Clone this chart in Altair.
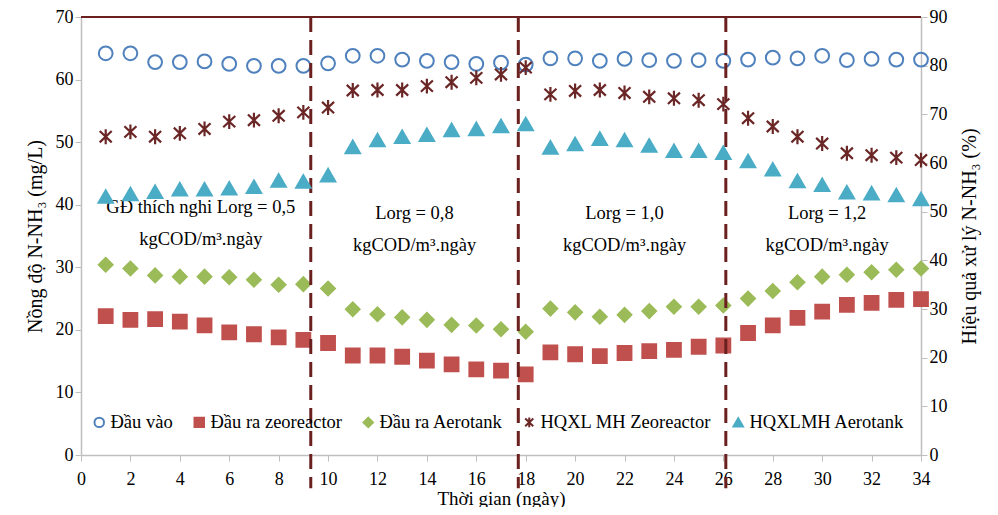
import altair as alt
import pandas as pd

days = list(range(1, 35))

dau_vao = [64.2, 64.2, 62.8, 62.8, 62.9, 62.5, 62.2, 62.2, 62.2, 62.6,
           63.8, 63.8, 63.2, 63.0, 62.8, 62.5, 62.7, 62.4, 63.4, 63.4,
           63.0, 63.3, 63.1, 63.0, 63.1, 63.0, 63.2, 63.5, 63.4, 63.8,
           63.1, 63.3, 63.2, 63.2]
ra_zeo = [22.2, 21.6, 21.7, 21.3, 20.7, 19.6, 19.3, 18.8, 18.4, 17.9,
          15.9, 15.9, 15.7, 15.1, 14.5, 13.7, 13.5, 12.9, 16.4, 16.1,
          15.8, 16.3, 16.6, 16.8, 17.3, 17.5, 19.5, 20.7, 21.9, 22.9,
          24.0, 24.3, 24.8, 24.9]
ra_aero = [30.4, 29.8, 28.7, 28.5, 28.5, 28.4, 28.0, 27.2, 27.3, 26.6,
           23.3, 22.5, 22.0, 21.6, 20.8, 20.7, 20.1, 19.7, 23.4, 22.8,
           22.1, 22.4, 23.0, 23.7, 23.7, 23.9, 25.0, 26.2, 27.6, 28.5,
           28.8, 29.2, 29.6, 29.8]
hq_zeo = [65.4, 66.4, 65.4, 66.1, 67.0, 68.5, 68.8, 69.7, 70.4, 71.4,
          74.9, 75.0, 75.0, 75.8, 76.6, 77.5, 78.2, 79.6, 74.1, 74.8,
          75.0, 74.4, 73.6, 73.3, 72.9, 72.1, 69.2, 67.5, 65.4, 64.0,
          62.0, 61.6, 61.1, 60.6]
hq_aero = [53.1, 53.6, 54.1, 54.6, 54.6, 54.8, 55.1, 56.4, 56.2, 57.5,
           63.3, 64.7, 65.4, 65.8, 66.8, 67.0, 67.6, 68.0, 63.2, 63.9,
           65.0, 64.7, 63.6, 62.5, 62.5, 62.1, 60.4, 58.7, 56.3, 55.5,
           54.0, 53.8, 53.4, 52.6]

series_names = ["Đầu vào", "Đầu ra zeoreactor", "Đầu ra Aerotank",
                "HQXL MH Zeoreactor", "HQXLMH Aerotank"]
series_stroke = ["#4F81BD", "#C0504D", "#9BBB59", "#6B2626", "#4BACC6"]
series_fill = ["transparent", "#C0504D", "#9BBB59", "transparent", "#4BACC6"]
ASTERISK = "M-0.85,-0.8L0.85,0.8M-0.85,0.8L0.85,-0.8M0,-1.05L0,1.05"
series_shape = ["circle", "square", "diamond", ASTERISK, "triangle-up"]

phase_bounds = [9.3, 17.7, 26.1]
phase_label_x = [4.85, 13.5, 22.0, 30.2]
phase_label_y = [39.6, 38.7, 38.7, 38.7]
phase_labels = ["GĐ thích nghi Lorg = 0,5\nkgCOD/m³.ngày",
                "Lorg = 0,8\nkgCOD/m³.ngày",
                "Lorg = 1,0\nkgCOD/m³.ngày",
                "Lorg = 1,2\nkgCOD/m³.ngày"]

FONT = "Liberation Serif"
MAROON = "#6B2020"

left_rows = []
for name, vals in zip(series_names[:3], [dau_vao, ra_zeo, ra_aero]):
    for d, v in zip(days, vals):
        left_rows.append({"day": d, "value": v, "series": name})
right_rows = []
for name, vals in zip(series_names[3:], [hq_zeo, hq_aero]):
    for d, v in zip(days, vals):
        right_rows.append({"day": d, "value": v, "series": name})
left_df = pd.DataFrame(left_rows)
right_df = pd.DataFrame(right_rows)
bounds_df = pd.DataFrame({"x": phase_bounds})
labels_df = pd.DataFrame({"x": phase_label_x, "y": phase_label_y, "label": phase_labels})
top_df = pd.DataFrame({"y": [70]})

x_enc = alt.X("day:Q", title="Thời gian (ngày)",
              scale=alt.Scale(domain=[0, 34], nice=False),
              axis=alt.Axis(values=list(range(0, 35, 2)), labelFlush=False,
                            labelPadding=9, titleFontSize=19,
                            titleBaseline="alphabetic", titleY=49))

shape_enc = alt.Shape("series:N", title=None,
                      scale=alt.Scale(domain=series_names, range=series_shape),
                      legend=alt.Legend(orient="none", legendX=9, legendY=396,
                                        direction="horizontal"))
stroke_enc = alt.Stroke("series:N", title=None,
                        scale=alt.Scale(domain=series_names, range=series_stroke))
fill_enc = alt.Fill("series:N", title=None,
                    scale=alt.Scale(domain=series_names, range=series_fill))

y_left = alt.Y("value:Q", title="Nồng độ N-NH₃ (mg/L)",
               scale=alt.Scale(domain=[0, 70], nice=False),
               axis=alt.Axis(values=list(range(0, 71, 10)), labelFlush=False,
                             titlePadding=10))
y_right = alt.Y("value:Q", title="Hiệu quả xử lý N-NH₃ (%)",
                scale=alt.Scale(domain=[0, 90], nice=False),
                axis=alt.Axis(orient="right", values=list(range(0, 91, 10)),
                              labelFlush=False, titleAngle=270,
                              titleBaseline="top", titlePadding=12))

pts_left = alt.Chart(left_df).mark_point(size=190, strokeWidth=2, opacity=1).encode(
    x=x_enc, y=y_left, shape=shape_enc, stroke=stroke_enc, fill=fill_enc)

top_line = alt.Chart(top_df).mark_rule(color=MAROON, strokeWidth=2).encode(
    y=alt.Y("y:Q", title="Nồng độ N-NH₃ (mg/L)"))

bound_lines = alt.Chart(bounds_df).mark_rule(color=MAROON, strokeWidth=3,
                                             strokeDash=[15, 8]).encode(
    x=alt.X("x:Q", title="Thời gian (ngày)"),
    y=alt.datum(70), y2=alt.datum(-5.3))

phase_text = alt.Chart(labels_df).mark_text(font=FONT, fontSize=18.5, color="#000000",
                                            lineBreak="\n", lineHeight=32,
                                            baseline="middle", align="center").encode(
    x=alt.X("x:Q", title="Thời gian (ngày)"),
    y=alt.Y("y:Q", title="Nồng độ N-NH₃ (mg/L)"),
    text="label:N")

left = alt.layer(top_line, phase_text, pts_left, bound_lines)

pts_right = alt.Chart(right_df).mark_point(size=200, strokeWidth=2.2, opacity=1).encode(
    x=x_enc, y=y_right, shape=shape_enc, stroke=stroke_enc, fill=fill_enc)

chart = alt.layer(left, pts_right).resolve_scale(y="independent").properties(
    width=840, height=438,
    autosize=alt.AutoSizeParams(type="none"),
    padding={"left": 73, "top": 9, "right": 69, "bottom": 52},
).configure_view(stroke=None).configure_axis(
    grid=False, domainColor="#BFBFBF", tickColor="#BFBFBF", tickSize=6,
    labelFont=FONT, labelFontSize=18, labelColor="#000000",
    titleFont=FONT, titleFontSize=20, titleFontWeight="normal", titleColor="#000000",
    domainWidth=1.5,
).configure_legend(
    labelFont=FONT, labelFontSize=18.5, labelColor="#000000", labelLimit=300,
    columnPadding=17, labelOffset=2, symbolSize=90, symbolStrokeWidth=2,
)

chart.save("out.html", embed_options={"renderer": "svg", "actions": False})
